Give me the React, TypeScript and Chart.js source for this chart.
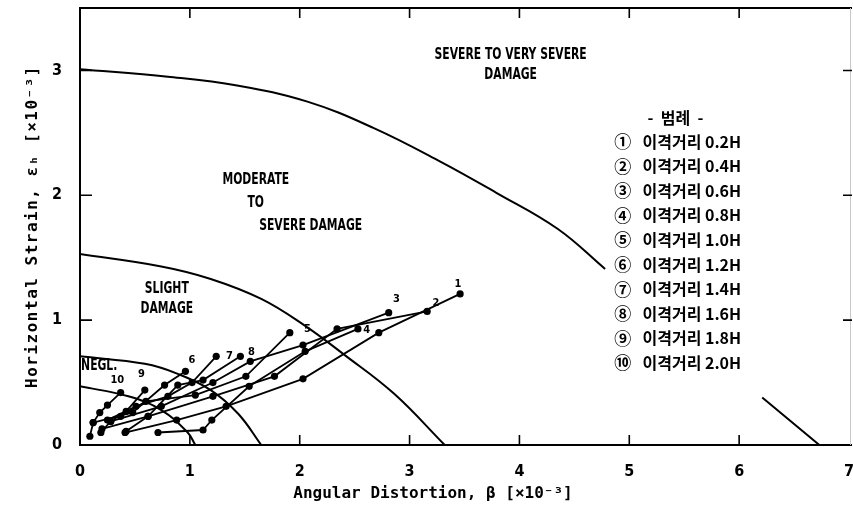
import React, { useEffect, useRef } from "react";
import { Chart, registerables } from "chart.js";
Chart.register(...registerables);

// ---------- axis ----------
const xTickValues = [0, 1, 2, 3, 4, 5, 6, 7];
const yTickValues = [0, 1, 2, 3];
const xTitle = "Angular Distortion, β [×10⁻³]";
const yTitle = "Horizontal Strain, εₕ [×10⁻³]";

// ---------- damage boundary curves [β, εh] ----------
const boundarySevereUpper = [[0, 3.01], [0.8, 2.95], [1.43, 2.88], [2.07, 2.75], [2.67, 2.54], [3.28, 2.27], [3.79, 2.02], [4.35, 1.73], [4.78, 1.41]];
const boundarySevereLower = [[6.21, 0.38], [6.73, 0]];
const boundaryModerate = [[0, 1.53], [0.74, 1.43], [1.19, 1.33], [1.65, 1.17], [2.04, 0.96], [2.41, 0.72], [2.86, 0.41], [3.32, 0]];
const boundarySlight = [[0, 0.71], [0.59, 0.65], [0.89, 0.57], [1.19, 0.44], [1.44, 0.25], [1.65, 0]];
const boundaryNegligible = [[0, 0.47], [0.44, 0.39], [0.74, 0.28], [0.98, 0.1], [1.05, 0]];

// ---------- measured series [β, εh] ----------
const s1 = [[0.41, 0.1], [0.88, 0.2], [1.33, 0.31], [2.03, 0.53], [2.72, 0.9], [3.46, 1.21]];
const s2 = [[0.2, 0.13], [0.62, 0.23], [1.21, 0.39], [1.77, 0.55], [2.34, 0.93], [3.16, 1.07]];
const s3 = [[0.28, 0.19], [0.74, 0.31], [1.21, 0.5], [1.55, 0.67], [2.03, 0.8], [2.81, 1.06]];
const s4 = [[0.71, 0.1], [1.12, 0.12], [1.2, 0.2], [1.54, 0.47], [2.05, 0.75], [2.53, 0.93]];
const s5 = [[0.37, 0.23], [0.6, 0.35], [1.05, 0.4], [1.51, 0.55], [1.91, 0.9]];
const s6 = [[0.12, 0.18], [0.48, 0.26], [0.77, 0.48], [0.96, 0.59]];
const s7 = [[0.25, 0.2], [0.51, 0.31], [0.8, 0.39], [1.02, 0.5], [1.24, 0.71]];
const s8 = [[0.42, 0.11], [0.62, 0.23], [0.89, 0.48], [1.12, 0.52], [1.46, 0.71]];
const s9 = [[0.19, 0.1], [0.28, 0.19], [0.42, 0.27], [0.59, 0.44]];
const s10 = [[0.09, 0.07], [0.12, 0.18], [0.18, 0.26], [0.25, 0.32], [0.37, 0.42]];
const seriesList = [s1, s2, s3, s4, s5, s6, s7, s8, s9, s10];
const seriesNames = ["1", "2", "3", "4", "5", "6", "7", "8", "9", "10"];
const seriesLabelAt = [[3.44, 1.29], [3.24, 1.14], [2.88, 1.17], [2.61, 0.92], [2.07, 0.93], [1.02, 0.68], [1.36, 0.71], [1.56, 0.74], [0.56, 0.57], [0.34, 0.52]];

// ---------- zone texts ----------
const zoneTexts = ["SEVERE TO VERY SEVERE", "DAMAGE", "MODERATE", "TO", "SEVERE DAMAGE", "SLIGHT", "DAMAGE", "NEGL."];
const zoneTextAt = [[3.92, 3.12], [3.92, 2.96], [1.6, 2.12], [1.6, 1.94], [2.1, 1.75], [0.79, 1.25], [0.79, 1.09], [0.01, 0.63]];

// ---------- legend ----------
const legendTitle = "-  범례  -";
const legendMarks = ["①", "②", "③", "④", "⑤", "⑥", "⑦", "⑧", "⑨", "⑩"];
const legendTexts = ["이격거리 0.2H", "이격거리 0.4H", "이격거리 0.6H", "이격거리 0.8H", "이격거리 1.0H", "이격거리 1.2H", "이격거리 1.4H", "이격거리 1.6H", "이격거리 1.8H", "이격거리 2.0H"];
const legendTitleAt = [5.42, 2.62];
const legendMarkX = 4.94;
const legendTextX = 5.12;
const legendTopY = 2.43;
const legendStepY = 0.197;

const NARROW = "'Liberation Sans Narrow', 'DejaVu Sans Condensed', 'DejaVu Sans', sans-serif";
const MONO = "'DejaVu Sans Mono', monospace";
const KR = "'Noto Sans CJK KR', sans-serif";

const overlay = {
  id: "overlay",
  afterDatasetsDraw(chart: any) {
    const { ctx, chartArea: a, scales } = chart;
    const xs = scales.x, ys = scales.y;
    const px = (v: number) => xs.getPixelForValue(v);
    const py = (v: number) => ys.getPixelForValue(v);
    ctx.save();
    ctx.strokeStyle = "#000";
    ctx.fillStyle = "#000";
    // frame
    ctx.lineWidth = 2;
    ctx.beginPath();
    ctx.moveTo(a.right + 3, a.top);
    ctx.lineTo(a.left, a.top);
    ctx.lineTo(a.left, a.bottom);
    ctx.lineTo(a.right + 3, a.bottom);
    ctx.stroke();
    ctx.lineWidth = 1;
    ctx.strokeStyle = "#c8c8c8";
    ctx.beginPath();
    ctx.moveTo(a.right + 1.5, a.top);
    ctx.lineTo(a.right + 1.5, a.bottom);
    ctx.stroke();
    // inward ticks
    ctx.strokeStyle = "#000";
    ctx.lineWidth = 1.6;
    ctx.beginPath();
    xTickValues.slice(1, -1).forEach((v) => {
      const x = px(v);
      ctx.moveTo(x, a.bottom);
      ctx.lineTo(x, a.bottom - 10);
      ctx.moveTo(x, a.top);
      ctx.lineTo(x, a.top + 10);
    });
    yTickValues.slice(1).forEach((v) => {
      const y = py(v);
      ctx.moveTo(a.left, y);
      ctx.lineTo(a.left + 12, y);
      ctx.moveTo(a.right + 3, y);
      ctx.lineTo(a.right - 6, y);
    });
    ctx.stroke();

    // zone texts (condensed bold)
    ctx.font = `bold 15px ${NARROW}`;
    ctx.textBaseline = "middle";
    zoneTexts.forEach((t, i) => {
      const [vx, vy] = zoneTextAt[i];
      ctx.save();
      ctx.translate(px(vx), py(vy));
      ctx.scale(0.8, 1);
      ctx.textAlign = t === "NEGL." ? "left" : "center";
      ctx.fillText(t, 0, 0);
      ctx.restore();
    });

    // series labels
    ctx.font = `bold 11px ${NARROW}`;
    ctx.textAlign = "center";
    seriesNames.forEach((t, i) => {
      const [vx, vy] = seriesLabelAt[i];
      ctx.fillText(t, px(vx), py(vy));
    });

    // legend
    ctx.font = `bold 16px ${KR}`;
    ctx.textAlign = "center";
    ctx.fillText(legendTitle, px(legendTitleAt[0]), py(legendTitleAt[1]));
    legendMarks.forEach((m, i) => {
      const y = py(legendTopY - i * legendStepY);
      ctx.font = `bold 17px ${KR}`;
      ctx.textAlign = "center";
      ctx.fillText(m, px(legendMarkX), y);
      ctx.font = `bold 16px ${KR}`;
      ctx.textAlign = "left";
      ctx.fillText(legendTexts[i], px(legendTextX), y);
    });

    // axis titles
    ctx.font = `bold 16px ${MONO}`;
    ctx.textAlign = "center";
    ctx.fillText(xTitle, 433, 494);
    ctx.save();
    ctx.translate(33, py(1.75));
    ctx.rotate(-Math.PI / 2);
    try { (ctx as any).letterSpacing = "1.5px"; } catch (e) {}
    ctx.fillText(yTitle, 0, 0);
    ctx.restore();
    ctx.restore();
  },
};

export default function App() {
  const ref = useRef<HTMLCanvasElement>(null);
  useEffect(() => {
    const canvas = ref.current!;
    const toPts = (arr: number[][]) => arr.map(([x, y]) => ({ x, y }));
    const curveDs = (arr: number[][]) => ({
      data: toPts(arr),
      borderColor: "#000",
      borderWidth: 2,
      pointRadius: 0,
      tension: 0.4,
      fill: false,
    });
    const seriesDs = (arr: number[][]) => ({
      data: toPts(arr),
      borderColor: "#000",
      backgroundColor: "#000",
      borderWidth: 1.8,
      pointRadius: 3.6,
      pointBackgroundColor: "#000",
      pointBorderWidth: 0,
      tension: 0,
      fill: false,
    });
    const chart = new Chart(canvas, {
      type: "line",
      data: {
        datasets: [
          curveDs(boundarySevereUpper),
          curveDs(boundarySevereLower),
          curveDs(boundaryModerate),
          curveDs(boundarySlight),
          curveDs(boundaryNegligible),
          ...seriesList.map(seriesDs),
        ] as any,
      },
      options: {
        responsive: false,
        animation: false,
        layout: { padding: { top: 8, right: 3, left: 0, bottom: 0 } },
        plugins: { legend: { display: false }, tooltip: { enabled: false } },
        scales: {
          x: {
            type: "linear",
            min: 0,
            max: 7,
            afterBuildTicks: (s: any) => { s.ticks = xTickValues.map((v) => ({ value: v })); },
            afterFit: (s: any) => { s.height = 66; s.paddingLeft = 0; s.paddingRight = 0; },
            ticks: { color: "#000", padding: 9, maxRotation: 0, font: { family: NARROW, size: 16, weight: "bold" } },
            grid: { display: false },
            border: { display: false },
          },
          y: {
            type: "linear",
            min: 0,
            max: 3.5,
            afterBuildTicks: (s: any) => { s.ticks = yTickValues.map((v) => ({ value: v })); },
            afterFit: (s: any) => { s.width = 80; s.paddingTop = 0; s.paddingBottom = 0; },
            ticks: { color: "#000", padding: 10, font: { family: NARROW, size: 16, weight: "bold" } },
            grid: { display: false },
            border: { display: false },
          },
        },
      } as any,
      plugins: [overlay],
    });
    return () => chart.destroy();
  }, []);
  return (
    <div style={{ position: "absolute", left: 0, top: 0, width: 853, height: 511, background: "#fff" }}>
      <canvas ref={ref} width={853} height={511} style={{ display: "block" }} />
    </div>
  );
}
